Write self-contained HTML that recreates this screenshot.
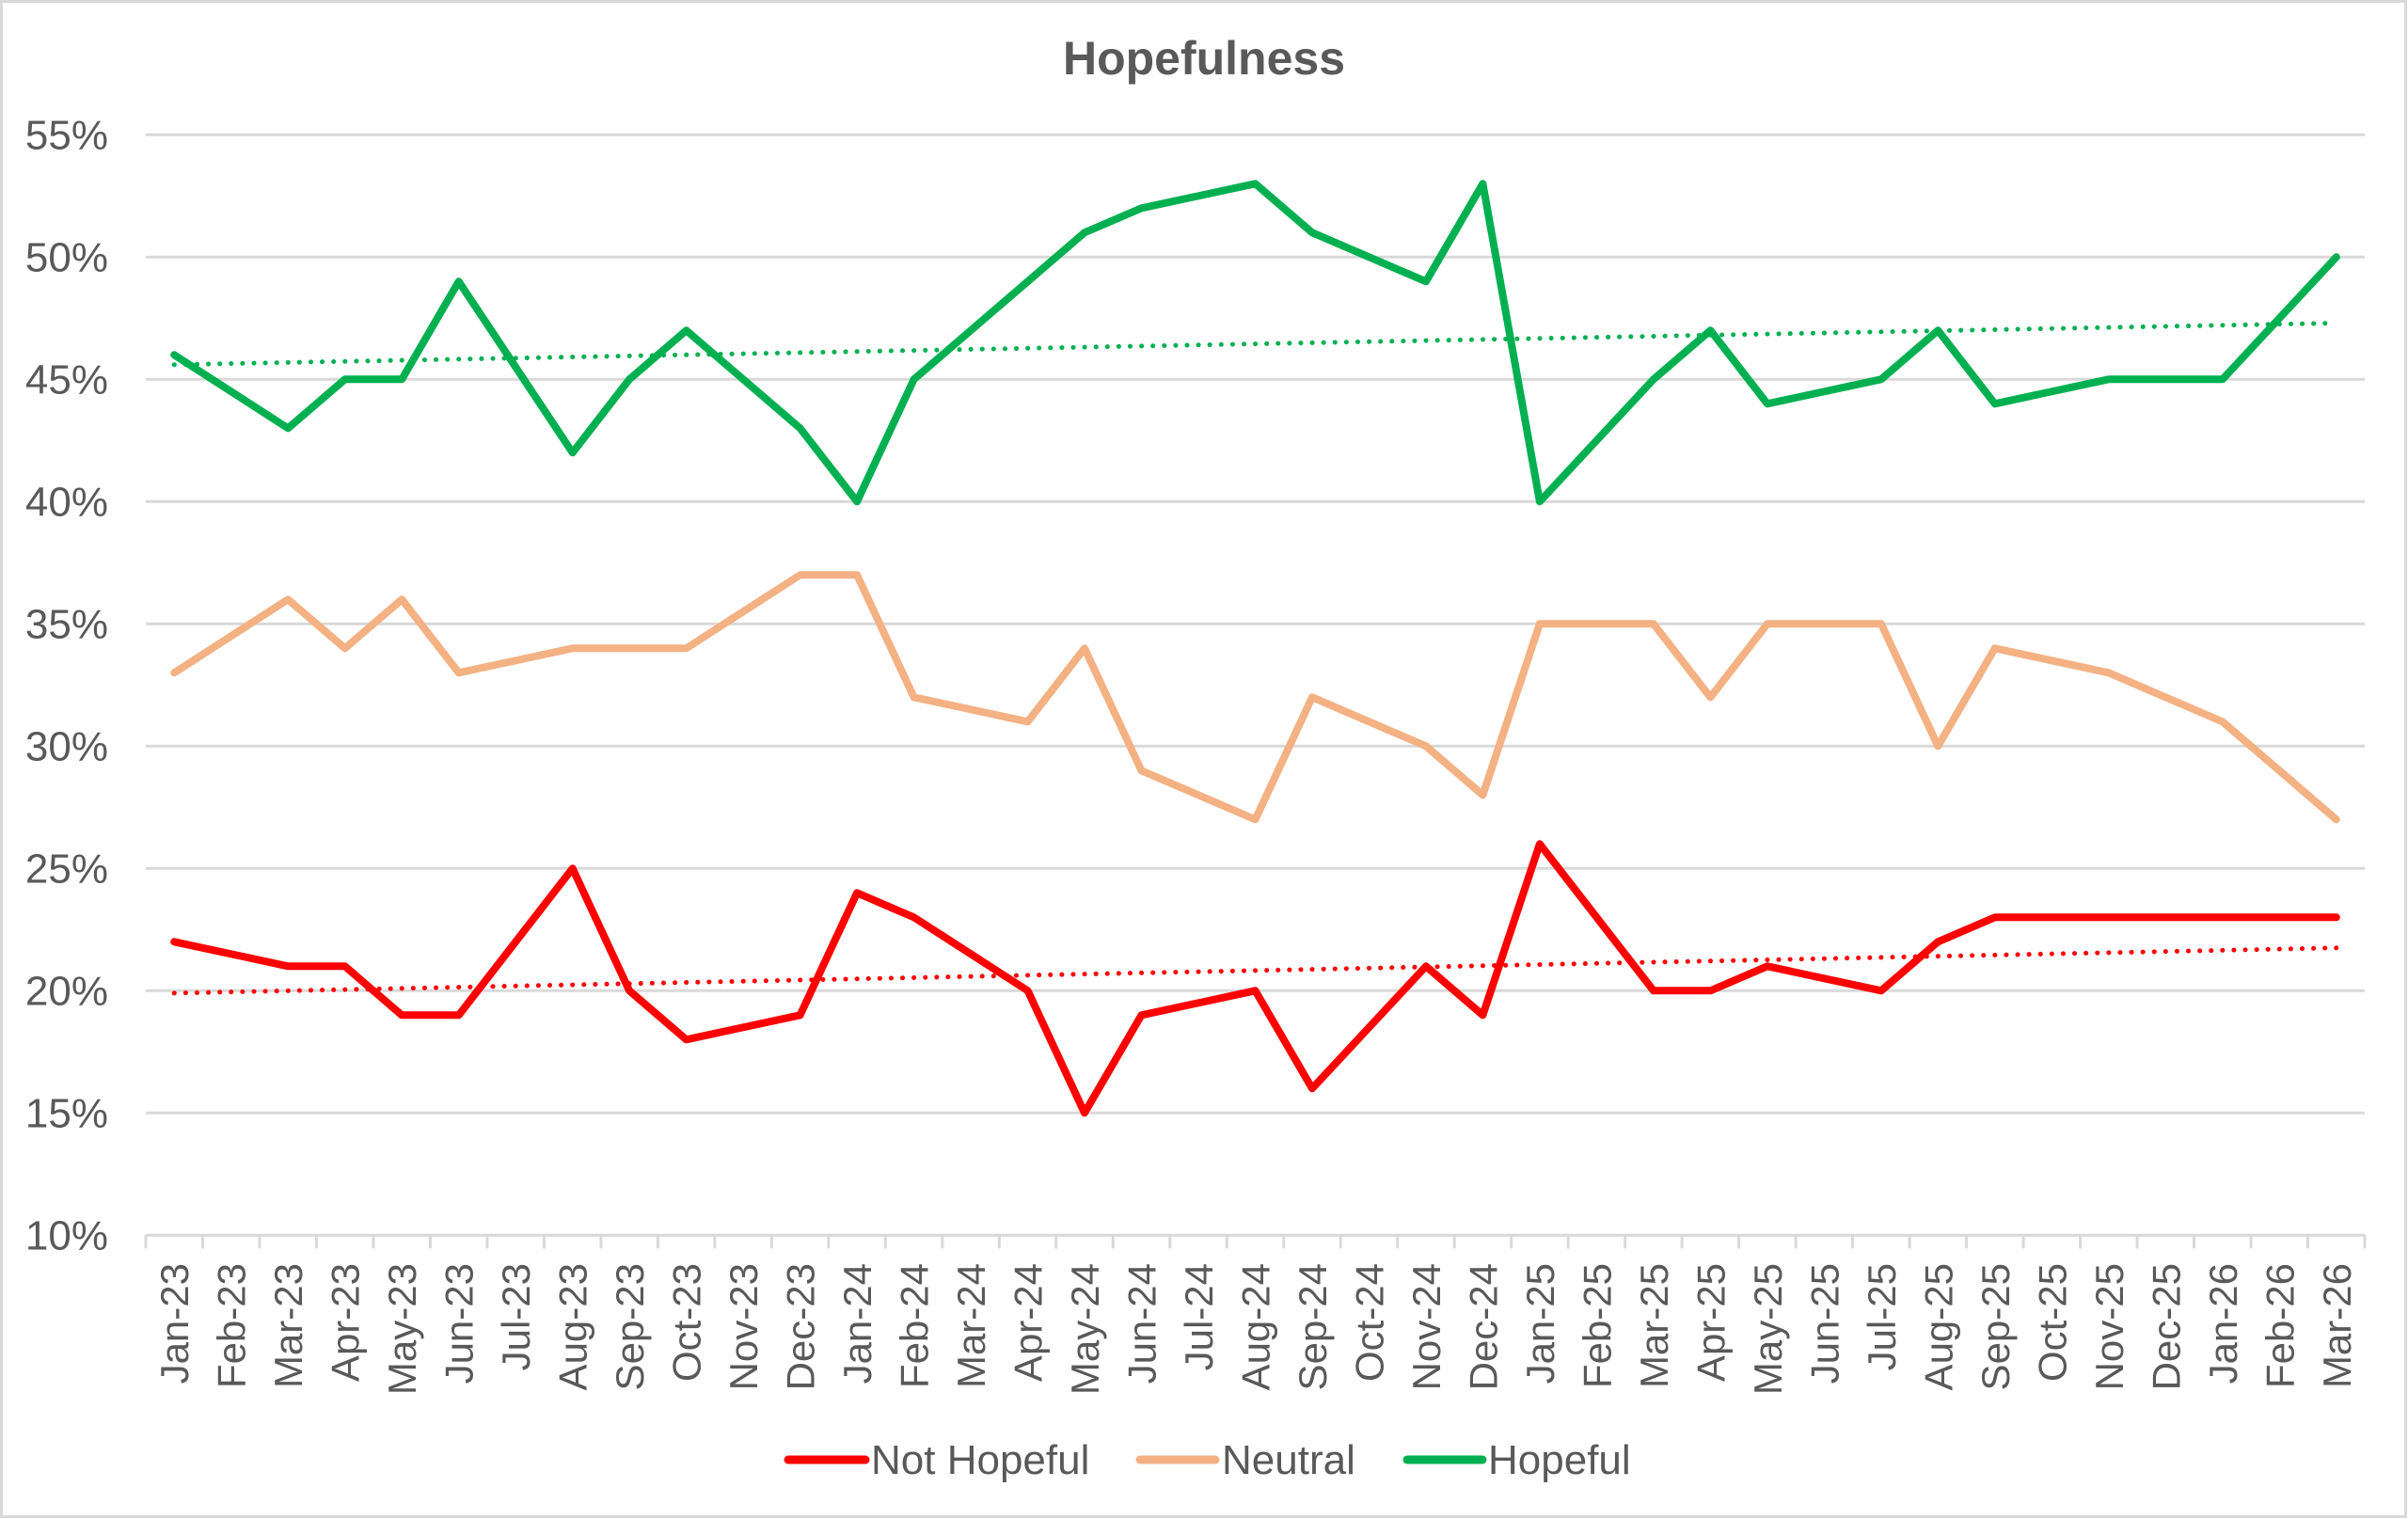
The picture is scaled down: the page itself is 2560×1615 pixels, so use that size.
<!DOCTYPE html>
<html><head><meta charset="utf-8"><style>
html,body{margin:0;padding:0;background:#fff}
svg{display:block}
text{font-family:"Liberation Sans",Arial,sans-serif;fill:#595959}
</style></head><body>
<svg width="2560" height="1615" xmlns="http://www.w3.org/2000/svg">
<rect x="1.5" y="1.5" width="2556" height="1611" fill="#fff" stroke="#d9d9d9" stroke-width="3"/>
<text x="1280" y="79" font-size="50" font-weight="bold" text-anchor="middle">Hopefulness</text>
<g id="grid" stroke="#d9d9d9" stroke-width="3"></g>
<g id="ylab" font-size="44" text-anchor="end"></g>
<g id="xlab" font-size="42"></g>
<g id="series" fill="none" stroke-linejoin="round" stroke-linecap="round"></g>
<g font-size="44">
<line x1="838" y1="1552" x2="920" y2="1552" stroke="#ff0000" stroke-width="9" stroke-linecap="round"/>
<text x="926" y="1567">Not Hopeful</text>
<line x1="1212" y1="1552" x2="1292" y2="1552" stroke="#f4b183" stroke-width="9" stroke-linecap="round"/>
<text x="1299" y="1567">Neutral</text>
<line x1="1496" y1="1552" x2="1576" y2="1552" stroke="#00b050" stroke-width="9" stroke-linecap="round"/>
<text x="1582" y="1567">Hopeful</text>
</g>
</svg>
<script>
const NS="http://www.w3.org/2000/svg";
const L=155,R=2514,T=143.3,step=130;
const Y=v=>T+(55-v)/5*step, W=(R-L)/39, X=i=>L+W*(i+0.5);
function el(p,n,a,t){const e=document.createElementNS(NS,n);for(const k in a)e.setAttribute(k,a[k]);if(t)e.textContent=t;document.getElementById(p).appendChild(e);return e;}
for(let v=10;v<=55;v+=5){const y=Y(v);if(v>10)el('grid','line',{x1:L,x2:R,y1:y,y2:y});el('ylab','text',{x:115,y:y+15},v+'%');}
el('grid','line',{x1:L,x2:R,y1:Y(10),y2:Y(10)});
for(let i=0;i<=39;i++){const x=L+W*i;el('grid','line',{x1:x,x2:x,y1:Y(10),y2:Y(10)+14});}
const m=['Jan','Feb','Mar','Apr','May','Jun','Jul','Aug','Sep','Oct','Nov','Dec'];
for(let i=0;i<39;i++){const lab=m[i%12]+'-'+(23+Math.floor(i/12));const x=X(i)+15;el('xlab','text',{x:x,y:1343,'text-anchor':'end',transform:`rotate(-90 ${x} 1343)`},lab);}
const H={0:46,2:43,3:45,4:45,5:49,7:42,8:45,9:47,11:43,12:40,13:45,16:51,17:52,19:53,20:51,22:49,23:53,24:40,26:45,27:47,28:44,30:45,31:47,32:44,34:45,36:45,38:50};
const N={0:33,2:36,3:34,4:36,5:33,7:34,8:34,9:34,11:37,12:37,13:32,15:31,16:34,17:29,19:27,20:32,22:30,23:28,24:35,26:35,27:32,28:35,30:35,31:30,32:34,34:33,36:31,38:27};
const P={0:22,2:21,3:21,4:19,5:19,7:25,8:20,9:18,11:19,12:24,13:23,15:20,16:15,17:19,19:20,20:16,22:21,23:19,24:26,26:20,27:20,28:21,30:20,31:22,32:23,34:23,36:23,38:23};
function path(d){return Object.keys(d).map(Number).sort((a,b)=>a-b).map((k,j)=>(j?'L':'M')+X(k).toFixed(1)+' '+Y(d[k]).toFixed(1)).join(' ');}
el('series','line',{x1:X(0),y1:Y(45.6),x2:X(38),y2:Y(47.3),stroke:'#00b050','stroke-width':5,'stroke-dasharray':'0.1 12'});
el('series','line',{x1:X(0),y1:Y(19.9),x2:X(38),y2:Y(21.75),stroke:'#ff0000','stroke-width':5,'stroke-dasharray':'0.1 12'});
el('series','path',{d:path(N),stroke:'#f4b183','stroke-width':8});
el('series','path',{d:path(P),stroke:'#ff0000','stroke-width':8});
el('series','path',{d:path(H),stroke:'#00b050','stroke-width':8});
</script>
</body></html>
